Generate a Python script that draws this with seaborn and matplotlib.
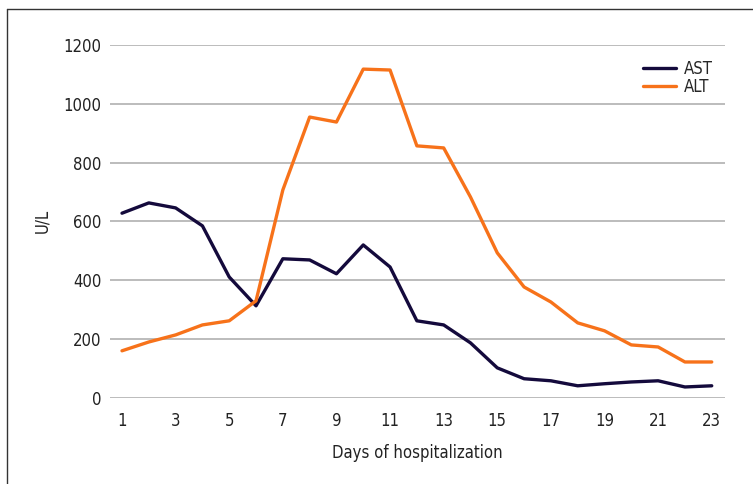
import numpy as np
import pandas as pd
import matplotlib
matplotlib.use('Agg')
import matplotlib.pyplot as plt
import seaborn as sns

days = list(range(1, 24))
ast = [628, 663, 646, 585, 411, 313, 473, 469, 422, 520, 445, 262,
       248, 187, 102, 65, 58, 41, 48, 54, 58, 37, 41]
alt = [160, 190, 214, 248, 262, 330, 707, 955, 938, 1118, 1115, 857,
       850, 683, 493, 377, 326, 255, 228, 180, 173, 122, 122]

df = pd.DataFrame({'Day': days, 'AST': ast, 'ALT': alt})
df = df.melt(id_vars='Day', var_name='Enzyme', value_name='U/L')

sns.set_style('white')
plt.rcParams['font.family'] = ['DejaVu Sans']
plt.rcParams['font.stretch'] = 'condensed'

fig = plt.figure(figsize=(7.53, 4.84), dpi=100)
ax = fig.add_axes([0.146, 0.178, 0.817, 0.729])

sns.lineplot(data=df, x='Day', y='U/L', hue='Enzyme',
             palette={'AST': '#140a3c', 'ALT': '#f7721a'},
             linewidth=2.4, ax=ax)

ax.set_xlim(0.55, 23.5)
ax.set_ylim(0, 1200)
ax.set_xticks(range(1, 24, 2))
ax.set_yticks(range(0, 1201, 200))
ax.yaxis.grid(True, color='#b0b0b0', linewidth=1.2)
ax.set_axisbelow(True)
for s in ax.spines.values():
    s.set_visible(False)
ax.tick_params(axis='both', length=0, labelsize=12, colors='#222222')
ax.tick_params(axis='x', pad=10)
ax.tick_params(axis='y', pad=6)
ax.set_xlabel('Days of hospitalization', fontsize=12, labelpad=10, color='#222222')
ax.set_ylabel('U/L', fontsize=12, labelpad=9, color='#222222')

leg = ax.legend(loc='upper right', bbox_to_anchor=(1.005, 1.0), frameon=False,
                fontsize=12, handlelength=2.0, labelspacing=0.0, handletextpad=0.5)
for h in leg.get_lines():
    h.set_linewidth(2.4)

# frame around the figure: top and left edges only
fig.add_artist(plt.Line2D([0.0095, 1.0], [0.981, 0.981], transform=fig.transFigure,
                          color='#333333', linewidth=1.0))
fig.add_artist(plt.Line2D([0.0095, 0.0095], [0.0, 0.981], transform=fig.transFigure,
                          color='#333333', linewidth=1.0))

fig.savefig('out.png', dpi=100)
